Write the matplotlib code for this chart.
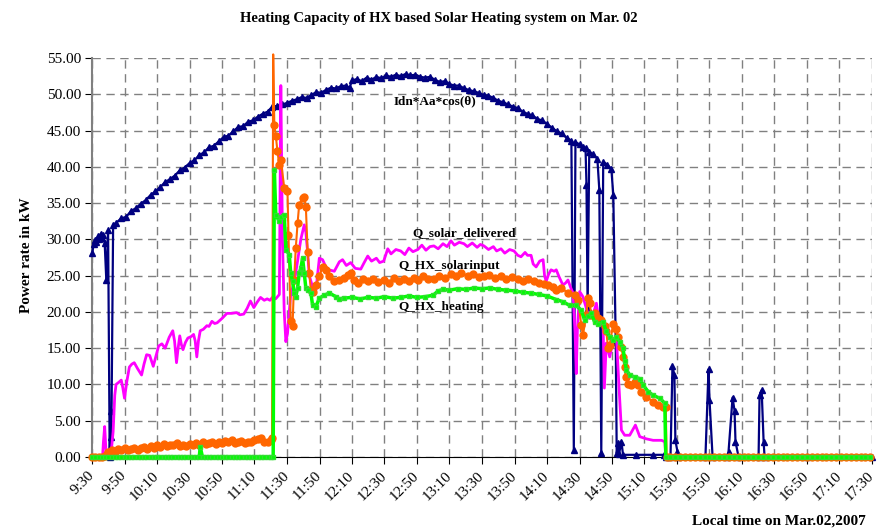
import matplotlib
matplotlib.use("Agg")
import matplotlib.pyplot as plt
import matplotlib.transforms as mtransforms
import numpy as np

# time axis: minutes after 9:30, labels every 20 minutes
tick_min = list(range(0, 481, 20))
tick_lab = ["9:30", "9:50", "10:10", "10:30", "10:50", "11:10", "11:30", "11:50",
            "12:10", "12:30", "12:50", "13:10", "13:30", "13:50", "14:10", "14:30",
            "14:50", "15:10", "15:30", "15:50", "16:10", "16:30", "16:50", "17:10", "17:30"]

# Idn*Aa*cos(theta)
idn_t = [0.2, 1.0, 1.7, 2.7, 3.7, 4.5, 5.4, 6.2, 6.8, 7.8, 8.8, 9.9, 10.9, 11.4, 11.9,
         13, 15, 18, 21, 24, 27, 30, 33, 36, 39, 42, 45, 48, 51, 54, 57, 60, 63, 66, 69,
         72, 75, 78, 81, 84, 87, 90, 93, 96, 99, 102, 105, 108, 111, 114, 117, 120, 123,
         126, 129, 132, 135, 138, 141, 144, 147, 150, 153, 156, 158.5, 160, 163, 166, 169,
         172, 175, 178, 181, 184, 187, 190, 193, 196, 199, 202, 205, 208, 211, 214, 217,
         220, 223, 226, 229, 232, 235, 238, 241, 244, 247, 250, 253, 256, 259, 262, 265,
         268, 271, 274, 277, 280, 283, 286, 289, 292, 295, 296.5, 297.5, 300, 302, 303.7,
         304.3, 305.0, 306.0, 308.5, 311.0, 312.2, 313.4, 314.6, 317.0, 319.6, 320.8,
         322.3, 322.9, 323.7, 324.3, 325.8, 326.8, 335, 345, 352, 353.5, 356.0, 357.2,
         358.4, 359.0, 360.3, 360.9, 377.5, 379.4, 380.0, 381.9, 391.0, 391.7, 394.2,
         395.4, 396.0, 397.9, 410.2, 410.8, 412.1, 413.3, 413.9, 440, 480]
idn_v = [28.1, 29.4, 29.9, 29.6, 30.4, 30.0, 30.8, 30.2, 30.6, 29.5, 24.4, 31.3, 0.0, 6.4, 2.8,
         32.0, 32.3, 32.9, 33.1, 33.9, 34.3, 34.9, 35.4, 36.1, 36.6, 37.2, 37.9, 38.3, 38.8,
         39.5, 39.9, 40.5, 40.9, 41.6, 42.0, 42.7, 42.9, 43.5, 44.1, 44.3, 44.9, 45.5, 45.6,
         46.2, 46.4, 46.9, 47.3, 47.6, 48.3, 48.4, 48.6, 48.8, 49.1, 49.3, 49.6, 49.5, 49.9,
         50.3, 50.2, 50.6, 50.9, 50.8, 51.1, 51.2, 50.9, 51.9, 52.1, 51.8, 52.3, 52.0, 52.4,
         52.2, 52.6, 52.4, 52.7, 52.5, 52.8, 52.6, 52.7, 52.4, 52.3, 52.4, 52.0, 51.7, 51.8,
         51.4, 51.2, 51.2, 50.8, 50.6, 50.4, 50.2, 49.9, 49.8, 49.5, 49.1, 48.9, 48.6, 48.3,
         48.1, 47.6, 47.3, 47.1, 46.6, 46.4, 45.9, 45.4, 44.9, 44.6, 44.0, 43.6, 1.0, 43.4,
         43.1, 42.8, 42.6, 37.5, 20.5, 42.1, 41.7, 41.1, 36.8, 0.6, 40.7, 40.3, 39.7, 36.1,
         15.9, 0.5, 1.9, 0.4, 2.1, 0.3, 0.3, 0.3, 0.3, 0.0, 0.0, 12.5, 11.3, 2.3, 0.7, 0.0,
         0.0, 12.1, 7.9, 0.0, 0.0, 0.7, 8.2, 6.4, 2.1, 0.0, 0.0, 8.5, 9.2, 2.1, 0.0, 0.0, 0.0]

# Q_solar_delivered
sol_t = [0, 6.5, 7.0, 7.8, 8.8, 11.5, 13.0, 14.0, 14.8, 16.5, 18.0, 19.0, 20.0, 21.5, 23.0,
         24.5, 26.0, 28.0, 30.5, 32.0, 33.6, 35.5, 37.7, 39.5, 41.0, 43.0, 45.0, 47.5, 49.7,
         50.8, 52.0, 53.0, 54.0, 55.0, 56.0, 57.5, 59.0, 61.0, 62.5, 63.5, 64.5, 65.5, 66.6,
         68.5, 70.7, 72.0, 73.8, 75.5, 77.0, 80.0, 83.0, 86.0, 89.0, 91.0, 93.4, 95.5, 97.5,
         99.6, 101.5, 103.7, 106.0, 107.8, 109.5, 111.0, 113.0, 114.5, 115.3, 116.2, 117.2,
         118.3, 119.3, 120.3, 122.3, 124.4, 126.5, 128.5, 130.6, 131.6, 132.7, 133.7, 135.7,
         137.8, 139.0, 139.9, 141.9, 143.9, 146.0, 149.1, 152.2, 154.2, 156.5, 159.2, 162,
         165.4, 167.5, 169.7, 172, 175, 177, 179.5, 182, 184, 187, 190, 192.5, 195, 197.5,
         200.5, 203, 205.5, 208, 210.4, 213, 216, 218.5, 220.9, 223, 226, 228.9, 231, 234,
         237, 239, 241.2, 244, 247, 249, 251.7, 254, 257, 259.7, 262, 264, 266.5, 268, 270.2,
         271.5, 273.3, 275.5, 277.6, 278.5, 279.5, 281, 282.5, 284.4, 285.7, 287.5, 289.8,
         291.5, 292.9, 294.5, 296.0, 297.3, 298.0, 298.7, 300.1, 302.1, 304.2, 306.2, 308.3,
         310.4, 312.4, 314.5, 315.3, 316.5, 318.6, 320.7, 322.7, 324.3, 325.8, 327.8, 330.9,
         334.4, 337.1, 341.2, 345.3, 350.5, 352.5, 353.2, 480]
sol_v = [0.0, 0.0, 2.0, 4.2, 0.0, 0.0, 3.5, 8.5, 10.0, 10.3, 10.6, 9.5, 8.1, 10.5, 12.4, 12.8,
         13.0, 12.2, 11.3, 12.8, 14.1, 14.0, 12.5, 14.0, 15.3, 15.6, 15.0, 16.5, 17.4, 16.0,
         13.0, 15.0, 16.7, 15.5, 14.8, 15.8, 16.4, 16.6, 16.9, 16.0, 13.8, 16.0, 17.4, 17.6,
         18.1, 18.0, 18.7, 18.4, 18.5, 19.1, 19.8, 19.8, 19.9, 19.6, 19.7, 20.5, 21.5, 20.6,
         21.3, 22.0, 21.6, 21.8, 21.6, 22.0, 21.8, 22.2, 22.4, 51.2, 30.0, 20.0, 15.9, 17.0,
         22.5, 24.0, 27.0, 30.0, 32.0, 31.0, 28.2, 25.0, 23.5, 23.0, 25.5, 27.4, 27.2, 26.2,
         25.8, 25.6, 26.9, 27.2, 26.4, 26.8, 26.0, 25.9, 26.8, 27.7, 27.0, 27.4, 26.8, 27.0,
         28.7, 28.0, 28.6, 28.4, 27.9, 28.8, 28.3, 28.6, 29.2, 28.5, 29.0, 29.1, 28.7, 29.4,
         29.0, 29.8, 29.2, 29.6, 29.4, 29.0, 29.5, 28.9, 29.3, 29.1, 28.6, 29.0, 28.4, 28.7,
         28.1, 28.6, 28.4, 27.8, 27.6, 28.2, 27.8, 27.8, 26.6, 26.2, 27.0, 27.2, 25.0, 24.2,
         25.2, 25.8, 25.6, 25.8, 24.8, 23.7, 24.0, 24.4, 23.4, 22.6, 17.0, 11.5, 17.5, 22.8,
         22.1, 20.5, 19.1, 19.6, 21.2, 18.2, 18.4, 9.5, 15.7, 13.8, 16.1, 16.6, 9.7, 3.7, 3.0,
         3.0, 4.4, 2.8, 2.5, 2.3, 2.3, 2.1, 0.0, 0.0]

# Q_HX_solarinput
hxin_t = [0, 2, 4, 6, 8, 9, 10, 12, 14, 16, 18, 20, 22, 24, 26, 28, 30, 32, 34, 36, 38, 40,
          42, 44, 46, 48, 50, 52, 54, 56, 58, 60, 62, 64, 66, 68, 70, 72, 74, 76, 78, 80, 82,
          84, 86, 88, 90, 92, 94, 96, 98, 100, 102, 104, 106, 108, 110, 110.8, 111.5, 112.2,
          113.1, 114.1, 115.2, 116.2, 118.3, 120.3, 120.9, 122.3, 123.4, 124.4, 125.4, 126.5,
          127.5, 129.6, 130.6, 131.6, 132.7, 133.7, 134.7, 135.7, 137.8, 139.9, 141.9, 143.9,
          146.0, 149.1, 152.2, 155, 157.3, 159.2, 161, 164, 167, 169.7, 173, 176, 179.5,
          182.5, 185.7, 189, 192, 195, 198, 200.5, 203.5, 207, 210.4, 213.5, 217, 220.9, 224,
          227, 231.4, 234.5, 238, 241.2, 244.5, 248, 251.7, 255, 258.5, 262, 265, 268.5, 272,
          275, 278, 280.7, 283.5, 285.7, 288.8, 292.9, 297.0, 299.1, 301.1, 302.1, 304.2,
          305.2, 306.2, 307.3, 309.3, 311.4, 313.4, 315.5, 316.5, 317.6, 318.6, 320.7, 322.3,
          323.7, 325.8, 326.8, 327.8, 328.4, 329.9, 331.9, 334.0, 336.1, 338.1, 341.2, 345.3,
          348.4, 351.5, 353.1, 353.6]
hxin_v = [0, 0, 0, 0, 0.1, 0.4, 0.7, 0.9, 0.7, 1.1, 1.0, 1.2, 0.9, 1.1, 1.3, 1.0, 1.2, 1.4,
          1.1, 1.5, 1.3, 1.6, 1.4, 1.8, 1.5, 1.7, 1.6, 1.9, 1.5, 1.7, 1.5, 1.8, 1.6, 1.9, 1.7,
          2.0, 1.8, 1.9, 2.1, 1.8, 2.0, 1.9, 2.2, 2.0, 2.3, 1.9, 2.0, 2.2, 1.9, 2.1, 2.0, 2.3,
          2.5, 2.6, 2.1, 2.0, 2.4, 2.6, 55.5, 45.7, 44.3, 42.2, 40.3, 41.0, 37.1, 36.6, 30.6,
          18.7, 18.0, 24.4, 28.8, 32.2, 34.8, 35.7, 35.9, 34.5, 28.3, 25.3, 23.0, 22.8, 23.7,
          24.9, 26.2, 25.8, 24.9, 24.2, 24.4, 24.7, 25.1, 25.4, 24.4, 24.0, 24.5, 24.2, 24.6,
          24.1, 24.4, 24.0, 24.7, 24.3, 24.6, 24.2, 24.7, 24.4, 24.9, 24.5, 24.6, 25.0, 24.7,
          25.2, 24.9, 25.3, 25.0, 25.2, 24.8, 24.9, 25.1, 24.7, 24.9, 24.6, 24.8, 24.5, 24.3,
          24.5, 24.2, 24.0, 23.9, 23.7, 23.4, 23.0, 23.3, 22.6, 22.3, 21.6, 18.2, 16.8, 19.6,
          21.9, 21.2, 19.6, 19.8, 19.1, 18.9, 18.0, 17.3, 15.0, 15.4, 18.4, 17.7, 16.6, 15.2,
          13.8, 12.4, 11.0, 10.1, 9.9, 10.4, 9.9, 9.0, 8.3, 7.6, 7.1, 6.9, 6.9, 0.0]
hxin_t += list(range(356, 481, 3))
hxin_v += [0.0] * len(range(356, 481, 3))

# Q_HX_heating
heat_t = list(range(0, 111, 2)) + [66.6, 111.5, 112.2, 113.1, 115.2, 116.2, 118.3, 119.3,
          121.4, 122.3, 123.4, 124.4, 125.4, 126.5, 127.5, 128.5, 129.6, 130.6, 131.6, 132.7,
          134.7, 135.7, 137.8, 139.9, 143.0, 146.0, 150.1, 152.2, 155, 160, 165, 170, 175, 180,
          185, 190, 195, 200, 205, 210, 213, 216, 220, 225, 230, 235, 240, 245, 250, 255, 260,
          265, 270, 275, 280, 285.7, 289.8, 293.9, 298.0, 301.1, 303.1, 305.2, 307.3, 309.3,
          311.4, 314.5, 316.5, 318.6, 320.7, 322.7, 324.7, 326.8, 327.8, 328.9, 330.9, 334.0,
          337.1, 339.2, 342.3, 345.3, 349.4, 352.5, 353.1]
heat_v = [0.0] * len(range(0, 111, 2)) + [1.4, 0.0, 39.6, 33.4, 32.5, 33.1, 33.4, 28.6, 27.9,
          25.3, 24.2, 22.6, 22.1, 23.3, 25.3, 26.0, 27.4, 25.3, 23.3, 23.0, 22.6, 21.0, 20.7,
          21.9, 22.3, 22.6, 22.1, 21.8, 21.9, 22.0, 21.8, 22.0, 21.9, 22.1, 21.9, 22.0, 22.2,
          22.0, 22.1, 22.3, 22.9, 23.1, 23.0, 23.2, 23.1, 23.3, 23.2, 23.3, 23.1, 23.0, 22.9,
          22.7, 22.6, 22.4, 22.2, 21.7, 21.4, 20.9, 20.9, 20.2, 18.9, 19.4, 19.8, 18.6, 18.4,
          18.6, 17.3, 16.6, 16.1, 16.6, 15.9, 15.0, 13.3, 12.0, 11.3, 11.0, 10.8, 9.9, 9.0,
          8.5, 8.1, 7.4, 0.0]
heat_t += list(range(356, 481, 3))
heat_v += [0.0] * len(range(356, 481, 3))

order = np.argsort(heat_t, kind="stable")
heat_t = np.array(heat_t)[order]
heat_v = np.array(heat_v)[order]

serif = ["Liberation Serif", "DejaVu Serif"]
plt.rcParams["font.family"] = serif

fig = plt.figure(figsize=(8.78, 5.32), dpi=100)
ax = fig.add_axes([92 / 878, 1 - 457 / 532, 780 / 878, 399 / 532])

ax.plot(idn_t, idn_v, color="#000080", lw=1.6, marker="^", ms=4,
        mfc="#000080", mec="#000080", clip_on=False, zorder=3)
ax.plot(sol_t, sol_v, color="#FF00FF", lw=2.0, clip_on=False, zorder=4)
# orange spike leaves the plot: no marker on that point
spike = int(np.argmax(hxin_v))
marks = [i for i in range(len(hxin_v)) if i != spike]
ax.plot(hxin_t, hxin_v, color="#FF6600", lw=1.5, marker="o", ms=5, markevery=marks,
        mfc="#FF6600", mec="#FF6600", clip_on=False, zorder=5)
ax.plot(heat_t, heat_v, color="#00FF00", lw=2.5, marker="s", ms=3.5,
        mfc="#00FF00", mec="#33DD33", clip_on=False, zorder=6)

ax.set_xlim(0, 480)
ax.set_ylim(0, 55)
ax.set_yticks(np.arange(0, 56, 5))
ax.set_yticklabels([f"{v:.2f}" for v in np.arange(0, 56, 5)], fontsize=11)
ax.set_xticks(tick_min)
ax.set_xticklabels(tick_lab, fontsize=11, rotation=45, ha="right", va="center",
                   rotation_mode="anchor")
shift = mtransforms.ScaledTranslation(4 / 100, 0, fig.dpi_scale_trans)
for lab in ax.get_xticklabels():
    lab.set_transform(lab.get_transform() + shift)
ax.tick_params(axis="x", length=5, direction="out", pad=7)
ax.tick_params(axis="y", length=5, direction="out", pad=3)
ax.grid(True, color="#808080", lw=1, linestyle=(0, (6, 4)))
ax.set_axisbelow(True)
for s in ["top", "right"]:
    ax.spines[s].set_visible(False)
ax.spines["left"].set_color("#808080")
ax.spines["left"].set_linewidth(1.5)
ax.spines["bottom"].set_color("black")

ax.text(211, 49.0, "Idn*Aa*cos(\u03b8)", fontsize=9.5, fontweight="bold",
        ha="center", va="center")
ax.text(229, 30.9, "Q_solar_delivered", fontsize=9.5, fontweight="bold",
        ha="center", va="center")
ax.text(220, 26.3, "Q_HX_solarinput", fontsize=9.5, fontweight="bold",
        ha="center", va="center")
ax.text(214.7, 20.7, "Q_HX_heating", fontsize=9.5, fontweight="bold",
        ha="center", va="center")

fig.text(0.5, 0.965, "Heating Capacity of HX based Solar Heating system on Mar. 02",
         fontsize=10.5, fontweight="bold", ha="center", va="center")
fig.text(27 / 878, 1 - 255 / 532, "Power rate in kW", fontsize=11, fontweight="bold",
         rotation=90, ha="center", va="center")
fig.text(866 / 878, 1 - 521 / 532, "Local time on Mar.02,2007", fontsize=11,
         fontweight="bold", ha="right", va="center")

fig.savefig("out.png", dpi=100)
